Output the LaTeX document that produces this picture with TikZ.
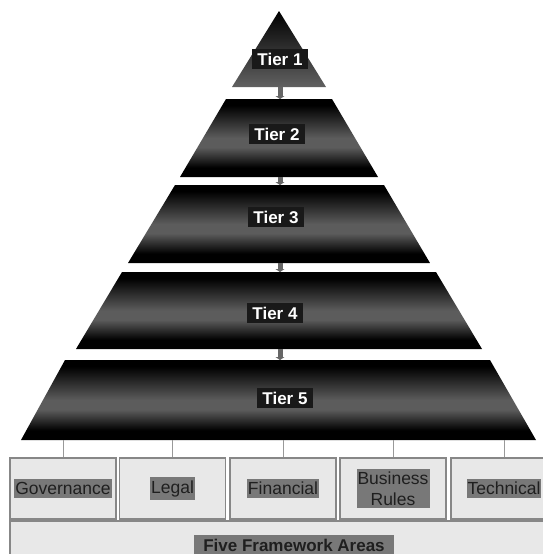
\documentclass[tikz,border=0pt]{standalone}
\usepackage{fontspec}
\setmainfont{Liberation Sans}
\usetikzlibrary{arrows.meta}

% dark bands at top and bottom, grey band a little below the middle
\pgfdeclareverticalshading{tiershade}{100bp}{color(0bp)=(black); color(31bp)=(black); color(44bp)=(black!64); color(50bp)=(black!64); color(71bp)=(black); color(100bp)=(black)}

\begin{document}
\begin{tikzpicture}[x=1pt, y=-1pt,
        tier/.style={shading=tiershade},
        tierlabel/.style={fill=black!90, text=white, font=\bfseries\fontsize{17}{20}\selectfont, inner xsep=5pt, inner ysep=4pt},
        tierlink/.style={draw=black!60, line width=5pt, -{Triangle[width=9pt,length=3pt]}},
        areabox/.style={draw=black!47, line width=1.5pt, fill=black!9, minimum width=106pt, minimum height=61pt},
        arealabel/.style={fill=black!53, text=black!88, font=\fontsize{17.5}{21}\selectfont, inner xsep=1pt, inner ysep=3pt, align=center},
        arealink/.style={draw=black!40, line width=0.8pt}]
        \useasboundingbox (0,0) rectangle (543,554);
        \clip (0,0) rectangle (543,554);

        % the five tiers
        \shade[top color=black, bottom color=black!62] (279,11) -- (326,87) -- (232,87) -- cycle;
        \shade[tier] (226,99) -- (332,99) -- (378,177) -- (180,177) -- cycle;
        \shade[tier] (175,185) -- (384,185) -- (430,263) -- (128,263) -- cycle;
        \shade[tier] (122,272) -- (436,272) -- (482,349) -- (76,349) -- cycle;
        \shade[tier] (65,360) -- (490,360) -- (536,440) -- (21,440) -- cycle;

        \coordinate (t1b) at (280,87);
        \coordinate (t2t) at (280,99);
        \coordinate (t2b) at (280,177);
        \coordinate (t3t) at (280,185);
        \coordinate (t3b) at (280,263);
        \coordinate (t4t) at (280,272);
        \coordinate (t4b) at (280,349);
        \coordinate (t5t) at (280,360);
        \coordinate (t5b) at (280,440);

        \draw[tierlink] (t1b) -- (t2t);
        \draw[tierlink] (t2b) -- (t3t);
        \draw[tierlink] (t3b) -- (t4t);
        \draw[tierlink] (t4b) -- (t5t);

        \node[tierlabel] (tier1) at (280,59) {Tier 1};
        \node[tierlabel] (tier2) at (277,134) {Tier 2};
        \node[tierlabel] (tier3) at (276,217) {Tier 3};
        \node[tierlabel] (tier4) at (275,313) {Tier 4};
        \node[tierlabel] (tier5) at (285,398) {Tier 5};

        % framework areas underneath
        \node[areabox] (gov) at (63,488.5) {};
        \node[areabox] (legal) at (172.5,488.5) {};
        \node[areabox] (fin) at (283,488.5) {};
        \node[areabox] (rules) at (393,488.5) {};
        \node[areabox] (tech) at (504,488.5) {};
        \node[areabox, minimum width=547pt, minimum height=54pt] (areas) at (283.5,548) {};

        \node[arealabel] (govlabel) at (gov) {Governance};
        \node[arealabel] (legallabel) at (legal) {Legal};
        \node[arealabel] (finlabel) at (fin) {Financial};
        \node[arealabel] (ruleslabel) at (rules) {Business\\Rules};
        \node[arealabel] (techlabel) at (tech) {Technical};
        \node[arealabel, font=\bfseries\fontsize{17}{20}\selectfont, inner xsep=9.5pt, inner ysep=4pt] (areaslabel) at (294,545) {Five Framework Areas};

        \draw[arealink] (gov.north) -- (gov.north |- t5b);
        \draw[arealink] (legal.north) -- (legal.north |- t5b);
        \draw[arealink] (fin.north) -- (fin.north |- t5b);
        \draw[arealink] (rules.north) -- (rules.north |- t5b);
        \draw[arealink] (tech.north) -- (tech.north |- t5b);
    \end{tikzpicture}
\end{document}
